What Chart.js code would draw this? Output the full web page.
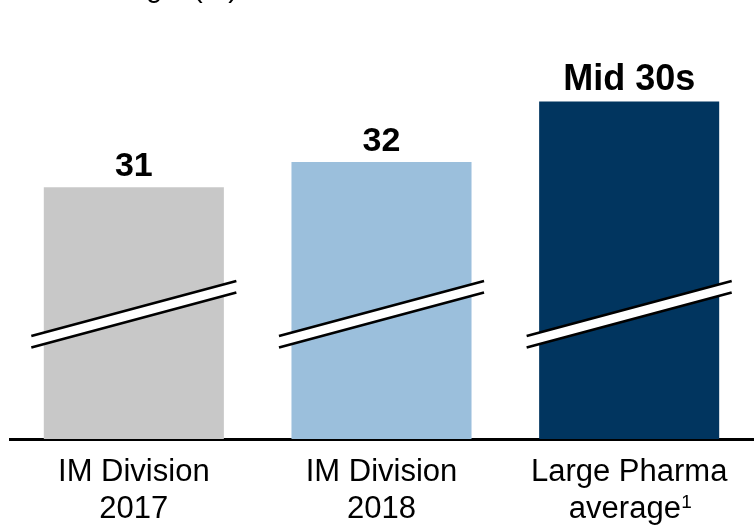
<!DOCTYPE html>
<html>
<head>
<meta charset="utf-8">
<script src="https://cdn.jsdelivr.net/npm/chart.js@4/dist/chart.umd.min.js"></script>
<style>
  html, body { margin: 0; padding: 0; background: #fff; }
  #wrap { width: 754px; height: 525px; position: relative; }
</style>
</head>
<body>
<div id="wrap"><canvas id="c" width="754" height="525"></canvas></div>
<script>
const categories = [['IM Division', '2017'], ['IM Division', '2018'], ['Large Pharma', 'average\u00A0']];
const footnoteMarks = ['', '', '1'];
const values = [31, 32, 34.4];
const valueLabels = ['31', '32', 'Mid 30s'];
const barColors = ['#c8c8c8', '#9bbfdc', '#01355f'];
const titleText = 'EBITDA margin (%)';

const FONT = '"Liberation Sans", Arial, Helvetica, sans-serif';
const TICK_SIZE = 31;

const overlayPlugin = {
  id: 'overlay',
  afterDatasetsDraw(chart) {
    const ctx = chart.ctx;
    const area = chart.chartArea;
    const meta = chart.getDatasetMeta(0);
    // axis break marks
    meta.data.forEach((bar) => {
      const cx = bar.x;
      const half = bar.width / 2 + 12.5;
      const yc = area.bottom - 130.5;
      const slope = 55 / 205;
      const gap = 11.5;
      const x1 = cx - half, x2 = cx + half;
      const ly = yc + half * slope;
      const ry = yc - half * slope;
      ctx.save();
      ctx.fillStyle = '#ffffff';
      ctx.beginPath();
      ctx.moveTo(x1, ly);
      ctx.lineTo(x2, ry);
      ctx.lineTo(x2, ry + gap);
      ctx.lineTo(x1, ly + gap);
      ctx.closePath();
      ctx.fill();
      ctx.strokeStyle = '#000000';
      ctx.lineWidth = 2.6;
      ctx.beginPath();
      ctx.moveTo(x1, ly); ctx.lineTo(x2, ry);
      ctx.moveTo(x1, ly + gap); ctx.lineTo(x2, ry + gap);
      ctx.stroke();
      ctx.restore();
    });
    // value labels
    meta.data.forEach((bar, i) => {
      ctx.save();
      ctx.fillStyle = '#000';
      ctx.textAlign = 'center';
      ctx.textBaseline = 'alphabetic';
      ctx.font = 'bold ' + (i === 2 ? 36 : 34) + 'px ' + FONT;
      ctx.fillText(valueLabels[i], bar.x, bar.y - 11);
      ctx.restore();
    });
    // footnote superscripts on category labels
    const xs = chart.scales.x;
    footnoteMarks.forEach((mark, i) => {
      if (!mark) return;
      const lines = categories[i];
      const last = lines[lines.length - 1];
      ctx.save();
      ctx.font = TICK_SIZE + 'px ' + FONT;
      const wFull = ctx.measureText(last).width;
      const wWord = ctx.measureText(last.replace(/\u00A0+$/, '')).width;
      const cx = xs.getPixelForTick(i);
      const startX = cx - wFull / 2 + wWord + 0.5;
      ctx.font = '19px ' + FONT;
      ctx.fillStyle = '#000';
      ctx.textAlign = 'left';
      ctx.textBaseline = 'alphabetic';
      ctx.fillText(mark, startX, xs.top + 69);
      ctx.restore();
    });
    // cut-off title at the top
    ctx.save();
    ctx.fillStyle = '#000';
    ctx.textAlign = 'right';
    ctx.textBaseline = 'alphabetic';
    ctx.font = '29px ' + FONT;
    ctx.fillText(titleText, 238, -3);
    ctx.restore();
  }
};

new Chart(document.getElementById('c'), {
  type: 'bar',
  data: {
    labels: categories,
    datasets: [{
      data: values,
      backgroundColor: barColors,
      borderWidth: 0,
      barPercentage: 0.727,
      categoryPercentage: 1.0
    }]
  },
  options: {
    responsive: false,
    animation: false,
    devicePixelRatio: 1,
    layout: { padding: { top: 36, left: 10, right: 1, bottom: 0 } },
    plugins: { legend: { display: false }, tooltip: { enabled: false }, title: { display: false } },
    scales: {
      x: {
        grid: { display: false, drawTicks: false },
        border: { display: true, color: '#000', width: 3 },
        ticks: {
          color: '#000',
          padding: 15,
          font: { family: FONT, size: TICK_SIZE, lineHeight: 1.2 },
          maxRotation: 0,
          autoSkip: false
        },
        afterFit(scale) { scale.height = 86; }
      },
      y: {
        display: false,
        min: 21,
        max: 37
      }
    }
  },
  plugins: [overlayPlugin]
});
</script>
</body>
</html>
